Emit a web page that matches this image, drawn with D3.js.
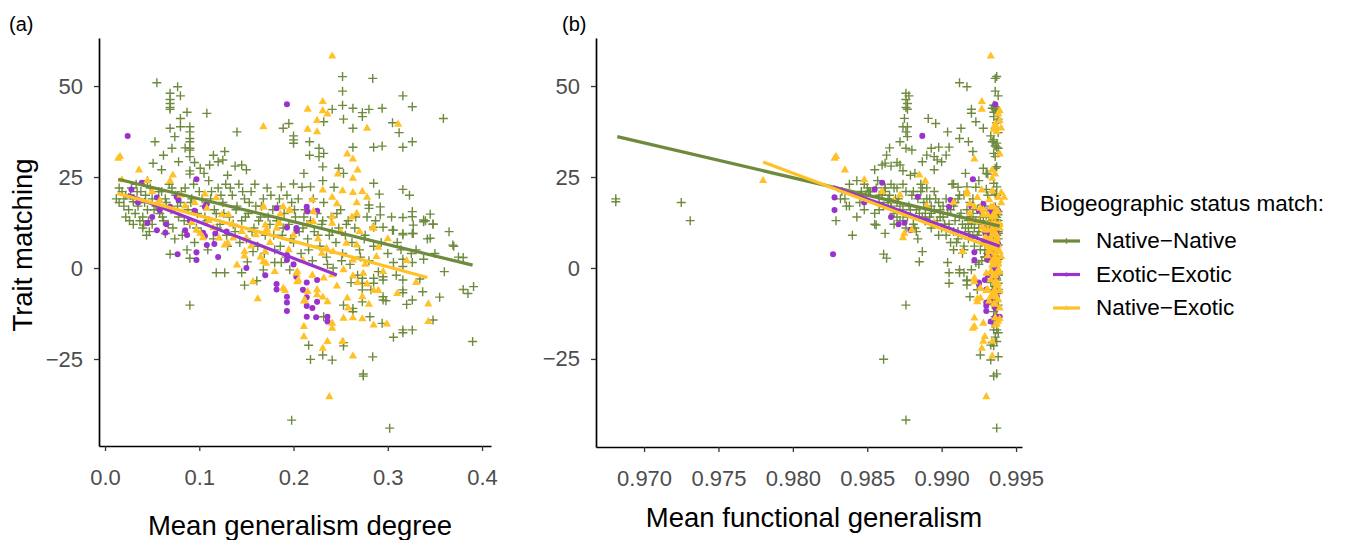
<!DOCTYPE html>
<html>
<head>
<meta charset="utf-8">
<script src="https://cdn.jsdelivr.net/npm/d3@7"></script>
<style>
  body { margin: 0; background: #fff; }
  text { font-family: "Liberation Sans", Arial, sans-serif; }
</style>
</head>
<body>
<div id="chart"></div>
<script>
// series
const seriesNames = ["Native\u2212Native", "Exotic\u2212Exotic", "Native\u2212Exotic"];
const seriesColors = ["#6E8B3D", "#9A32CD", "#FFC125"];
const seriesShapes = ["plus", "dot", "triangle"];

// each point: [mean generalism degree, mean functional generalism, trait matching]
const nativeNative = [
  [0.020,0.9681,19.0],[0.030,0.9681,18.2],[0.035,0.9725,18.0],[0.046,0.9731,13.0],
  [0.055,0.9912,50.9],[0.077,0.9917,49.8],[0.069,0.9876,48.0],[0.069,0.9876,46.3],[0.069,0.9877,45.2],
  [0.069,0.9876,44.1],[0.069,0.9877,43.6],[0.080,0.9878,47.3],[0.087,0.9935,42.8],[0.108,0.9920,42.5],
  [0.080,0.9875,41.1],[0.080,0.9877,38.8],[0.090,0.9874,38.8],[0.090,0.9876,37.4],[0.090,0.9912,35.6],
  [0.090,0.9918,34.7],[0.090,0.9876,32.9],[0.090,0.9880,32.4],[0.090,0.9895,30.6],[0.069,0.9913,38.4],
  [0.074,0.9877,36.1],[0.053,0.9872,34.7],[0.140,0.9904,37.4],[0.062,0.9863,31.0],[0.071,0.9893,32.9],
  [0.127,0.9921,32.0],[0.051,0.9862,28.8],[0.078,0.9900,29.2],[0.101,0.9928,27.4],[0.111,0.9872,28.3],
  [0.120,0.9887,29.2],[0.125,0.9897,29.7],[0.138,0.9866,28.0],[0.145,0.9860,28.3],[0.090,0.9874,26.7],
  [0.090,0.9931,25.8],
  [0.060,0.9855,27],[0.085,0.9865,33],[0.095,0.9870,29],[0.105,0.9882,26],[0.115,0.9890,31],
  [0.130,0.9879,25.5],[0.150,0.9895,27],
  [0.252,0.9937,52.6],[0.284,0.9936,52.1],[0.252,0.9936,48.6],[0.316,0.9938,47.3],[0.326,0.9936,44.3],
  [0.359,0.9891,41.1],[0.252,0.9935,44.7],[0.241,0.9920,43.6],[0.263,0.9936,43.9],[0.273,0.9937,42.7],
  [0.273,0.9935,41.6],[0.280,0.9936,43.6],[0.294,0.9934,43.9],[0.253,0.9938,40.9],[0.232,0.9923,40.2],
  [0.195,0.9896,39.7],[0.189,0.9928,38.4],[0.200,0.9933,36.3],[0.200,0.9935,35.2],[0.200,0.9937,34.3],
  [0.217,0.9934,34.7],[0.263,0.9936,38.4],[0.305,0.9937,39.9],[0.312,0.9938,37.2],[0.326,0.9935,34.7],
  [0.227,0.9938,32.9],[0.227,0.9936,30.6],[0.232,0.9935,31.5],[0.217,0.9903,31.0],[0.263,0.9905,33.2],
  [0.285,0.9937,33.2],[0.294,0.9936,33.5],[0.316,0.9898,33.2],[0.231,0.9937,27.8],[0.248,0.9936,27.4],
  [0.253,0.9916,26.0],[0.211,0.9930,26.0],[0.285,0.9935,23.3],[0.231,0.9925,24.0],[0.200,0.9908,23.1],
  [0.209,0.9923,22.2],[0.218,0.9937,22.3],[0.187,0.9917,22.3],[0.243,0.9911,22.2],[0.291,0.9936,20.3],
  [0.316,0.9930,21.6],[0.323,0.9937,20.0],[0.345,0.9934,14.8],[0.338,0.9937,13.2],[0.348,0.9935,12.0],
  [0.326,0.9938,15.5],[0.326,0.9936,14.1],[0.316,0.9937,13.9],[0.305,0.9931,10.4],[0.316,0.9938,9.5],
  [0.326,0.9936,9.5],[0.280,0.9927,17.3],[0.280,0.9933,16.4],[0.292,0.9936,16.8],[0.292,0.9938,14.6],
  [0.090,0.9876,-10.2],[0.041,0.9856,11.8],[0.064,0.9862,9.5],[0.069,0.9861,3.8],[0.090,0.9863,2.7],
  [0.118,0.9905,-1.3],[0.127,0.9912,-1.3],[0.145,0.9915,-1.3],[0.148,0.9917,-4.7],[0.161,0.9917,-3.5],
  [0.168,0.9920,-0.5],[0.151,0.9885,1.7],[0.157,0.9887,4.5],[0.180,0.9904,1.5],[0.187,0.9923,1.5],
  [0.198,0.9876,-41.8],[0.218,0.9861,-25.1],[0.216,0.9933,-21.2],[0.196,0.9912,-0.5],[0.302,0.9937,-44.0],
  [0.274,0.9937,-29.1],[0.274,0.9935,-29.7],[0.231,0.9926,-23.9],[0.241,0.9933,-25.3],[0.284,0.9938,-24.4],
  [0.253,0.9935,-21.4],[0.253,0.9934,-20.5],[0.306,0.9936,-19.0],[0.316,0.9938,-17.8],[0.316,0.9935,-17.0],
  [0.326,0.9937,-17.0],[0.348,0.9936,-14.3],[0.294,0.9934,-15.2],[0.390,0.9937,-20.2],[0.380,0.9938,-5.9],
  [0.391,0.9936,-5.1],[0.337,0.9937,-6.5],[0.326,0.9935,-8.8],[0.295,0.9936,-8.8],[0.295,0.9919,-7.9],
  [0.316,0.9924,-6.0],[0.316,0.9938,-6.8],[0.281,0.9936,-13.4],[0.263,0.9937,-11.1],[0.263,0.9935,-12.0],
  [0.273,0.9934,-9.3],[0.253,0.9938,-10.2],[0.232,0.9937,-13.4],[0.369,0.9938,6.3],[0.380,0.9936,2.9],
  [0.345,0.9935,8.2],[0.348,0.9937,12.1],[0.338,0.9934,12.7],[0.327,0.9938,9.5],[0.327,0.9935,11.8],
  [0.316,0.9936,9.1],[0.306,0.9933,10.4],[0.295,0.9937,11.2],[0.285,0.9934,11.2],[0.338,0.9936,2.4],
  [0.326,0.9937,1.5],[0.316,0.9935,0.4],[0.316,0.9938,2.4],[0.306,0.9936,1.5],[0.316,0.9937,-3.3],
  [0.295,0.9917,-3.3],[0.295,0.9936,-2.4],[0.285,0.9905,-4.2],[0.285,0.9937,-2.8],[0.273,0.9935,-2.8],
  [0.273,0.9938,-4.2],[0.273,0.9936,-6.0],
  [0.012,0.9832,19],[0.015,0.9845,18],[0.018,0.9852,21],[0.020,0.9838,17],[0.022,0.9858,20],
  [0.025,0.9848,16],[0.028,0.9862,22],[0.030,0.9835,19],[0.032,0.9855,15],[0.035,0.9866,17],
  [0.038,0.9851,21],[0.040,0.9870,14],[0.042,0.9858,18],[0.045,0.9874,16],[0.048,0.9862,22],
  [0.050,0.9881,12],[0.030,0.9868,12],[0.040,0.9876,11],[0.045,0.9843,24],[0.050,0.9864,19],
  [0.055,0.9872,17],[0.058,0.9885,15],[0.060,0.9852,21],[0.062,0.9889,13],[0.065,0.9866,18],
  [0.068,0.9848,23],[0.070,0.9879,16],[0.072,0.9893,11],[0.075,0.9860,20],[0.078,0.9887,14],
  [0.080,0.9870,18],[0.082,0.9898,9],[0.085,0.9856,22],[0.088,0.9883,16],[0.090,0.9902,12],
  [0.092,0.9869,19],[0.095,0.9906,7],[0.098,0.9889,15],[0.100,0.9862,21],[0.102,0.9908,10],
  [0.105,0.9878,17],[0.108,0.9897,13],[0.110,0.9857,24],[0.112,0.9884,19],[0.115,0.9911,8],
  [0.118,0.9893,15],[0.120,0.9870,22],[0.122,0.9905,12],[0.125,0.9888,18],[0.128,0.9866,23],
  [0.130,0.9915,6],[0.132,0.9899,14],[0.135,0.9880,20],[0.138,0.9911,10],[0.140,0.9893,17],
  [0.142,0.9874,23],[0.145,0.9909,13],[0.148,0.9890,19],[0.150,0.9918,8],[0.152,0.9904,15],
  [0.155,0.9886,21],[0.158,0.9916,11],[0.160,0.9901,17],[0.162,0.9922,6],[0.165,0.9912,14],
  [0.168,0.9896,19],[0.170,0.9921,9],[0.172,0.9890,22],[0.175,0.9914,12],[0.178,0.9906,16],
  [0.180,0.9926,5],[0.182,0.9918,13],[0.185,0.9903,19],[0.188,0.9924,9],[0.190,0.9913,15],
  [0.192,0.9929,3],[0.195,0.9920,12],[0.198,0.9909,18],[0.200,0.9927,7],[0.202,0.9919,14],
  [0.205,0.9911,19],[0.208,0.9931,4],[0.210,0.9925,11],[0.212,0.9917,16],[0.215,0.9930,8],
  [0.218,0.9923,13],[0.220,0.9934,2],[0.222,0.9928,10],[0.225,0.9921,15],[0.228,0.9933,6],
  [0.230,0.9927,12],[0.232,0.9919,18],[0.235,0.9935,3],[0.238,0.9931,9],[0.240,0.9926,14],
  [0.242,0.9936,0],[0.245,0.9932,7],[0.248,0.9929,11],[0.250,0.9924,16],[0.252,0.9936,4],
  [0.255,0.9933,9],[0.258,0.9930,13],[0.260,0.9937,1],[0.262,0.9934,7],[0.265,0.9931,11],
  [0.268,0.9938,-2],[0.270,0.9935,5],[0.275,0.9932,8],[0.278,0.9928,14],[0.280,0.9937,2],
  [0.285,0.9934,6],[0.290,0.9938,-1],[0.300,0.9935,4],[0.310,0.9936,7],[0.330,0.9933,5],
  [0.340,0.9932,13],[0.350,0.9937,4],[0.360,0.9938,-1],[0.370,0.9935,6],[0.375,0.9936,3],
  [0.015,0.9850,22],[0.022,0.9843,14],[0.027,0.9865,20],[0.033,0.9838,23],[0.037,0.9872,13],
  [0.043,0.9849,20],[0.047,0.9883,10],[0.052,0.9858,16],[0.057,0.9846,21],[0.061,0.9877,14],
  [0.064,0.9892,19],[0.067,0.9855,12],[0.071,0.9868,22],[0.074,0.9884,8],[0.077,0.9861,17],
  [0.081,0.9895,21],[0.084,0.9874,13],[0.087,0.9908,5],[0.091,0.9864,18],[0.094,0.9886,23],
  [0.097,0.9900,11],[0.103,0.9871,19],[0.106,0.9892,14],[0.109,0.9915,5],[0.113,0.9876,21],
  [0.116,0.9899,16],[0.119,0.9882,11],[0.123,0.9912,20],[0.126,0.9868,15],[0.129,0.9903,9],
  [0.133,0.9887,22],[0.136,0.9918,12],[0.139,0.9895,16],[0.143,0.9910,7],[0.146,0.9881,21],
  [0.149,0.9920,14],[0.153,0.9898,18],[0.156,0.9925,10],[0.159,0.9907,23],[0.163,0.9889,13],
  [0.166,0.9929,17],[0.169,0.9914,4],[0.173,0.9901,14],[0.176,0.9931,20],[0.179,0.9919,9],
  [0.183,0.9908,17],[0.186,0.9933,6],[0.189,0.9922,11],[0.193,0.9915,20],[0.197,0.9935,8],
  [0.201,0.9926,16],[0.206,0.9918,10],[0.211,0.9936,14],[0.216,0.9929,5],[0.221,0.9921,19],
  [0.226,0.9937,9],[0.231,0.9932,13],[0.236,0.9925,1],[0.241,0.9938,10],[0.246,0.9934,15],
  [0.251,0.9927,2],[0.256,0.9938,12],[0.261,0.9933,-4],[0.266,0.9936,14],[0.271,0.9929,3],
  [0.276,0.9937,9],[0.282,0.9934,-6],[0.287,0.9938,13],[0.293,0.9935,7],[0.298,0.9937,-9],
  [0.304,0.9933,14],[0.309,0.9938,-2],[0.314,0.9936,5],[0.320,0.9934,-10],[0.325,0.9937,4],
  [0.334,0.9935,-3],[0.342,0.9938,8],[0.355,0.9936,-8],[0.365,0.9934,10],[0.385,0.9937,-7],
  [0.026,0.9829,13],[0.034,0.9833,21],[0.044,0.9840,9],[0.054,0.9836,17]
];

const exoticExotic = [
  [0.024,0.9887,36.3],[0.028,0.9855,21.6],[0.039,0.9860,23.4],[0.055,0.9828,19.4],[0.058,0.9828,15.9],
  [0.077,0.9827,3.8],[0.076,0.9884,19.6],[0.078,0.9906,18.7],[0.069,0.9905,16.8],[0.095,0.9925,15.7],
  [0.097,0.9921,24.4],[0.106,0.9920,16.8],[0.108,0.9928,17.6],[0.045,0.9875,12.4],[0.055,0.9879,10.4],
  [0.064,0.9930,9.7],[0.085,0.9934,10.4],[0.087,0.9936,9.1],[0.104,0.9931,9.7],[0.106,0.9937,8.8],
  [0.117,0.9933,9.5],[0.097,0.9922,4.3],[0.097,0.9931,2.2],[0.108,0.9934,6.3],[0.116,0.9938,6.6],
  [0.129,0.9929,10.0],[0.182,0.9933,16.4],[0.193,0.9936,45.0],[0.193,0.9930,11.1],[0.203,0.9934,11.0],
  [0.203,0.9937,10.2],[0.214,0.9935,16.8],[0.215,0.9932,15.5],[0.225,0.9938,15.7],[0.182,0.9925,-4.4],
  [0.182,0.9930,-5.9],[0.193,0.9937,-7.9],[0.193,0.9930,-9.5],[0.193,0.9930,-11.8],[0.193,0.9931,3.6],
  [0.193,0.9922,2.2],[0.203,0.9937,-2.4],[0.214,0.9925,-4.0],[0.214,0.9937,-8.0],[0.214,0.9930,-10.4],
  [0.214,0.9939,-13.4],[0.224,0.9938,-13.5],[0.225,0.9934,-9.3],[0.236,0.9936,-13.4],[0.236,0.9933,-14.7],
  [0.225,0.9929,-3.3],
  [0.035,0.9848,18],[0.050,0.9866,14],[0.065,0.9871,12],[0.090,0.9890,13],[0.120,0.9933,3],
  [0.150,0.9936,0],[0.170,0.9931,-2],[0.200,0.9935,1],[0.210,0.9938,-6],[0.220,0.9936,-11]
];

const nativeExotic = [
  [0.014,0.9828,30.1],[0.016,0.9829,30.6],[0.036,0.9835,26.9],[0.045,0.9780,24.0],[0.018,0.9848,24.2],
  [0.072,0.9885,25.5],[0.069,0.9889,23.9],[0.058,0.9868,18.5],[0.085,0.9890,17.0],[0.092,0.9895,12.5],
  [0.168,0.9936,38.8],[0.215,0.9927,43.6],[0.215,0.9935,38.1],[0.231,0.9927,45.7],[0.231,0.9939,43.2],
  [0.236,0.9938,42.3],[0.225,0.9939,40.5],[0.225,0.9937,37.4],[0.278,0.9940,38.4],[0.311,0.9936,39.5],
  [0.241,0.9933,58.2],[0.257,0.9939,31.3],[0.263,0.9922,29.9],[0.268,0.9934,26.9],[0.247,0.9936,25.8],
  [0.263,0.9934,24.6],[0.231,0.9927,21.4],[0.252,0.9934,21.2],[0.263,0.9940,20.7],[0.273,0.9917,21.0],
  [0.241,0.9942,19.4],[0.246,0.9919,17.6],[0.278,0.9938,19.4],[0.267,0.9940,17.9],[0.267,0.9919,15.0],
  [0.284,0.9937,11.1],[0.241,0.9936,14.1],[0.241,0.9934,12.3],[0.220,0.9932,18.7],[0.196,0.9928,15.9],
  [0.189,0.9935,16.8],[0.221,0.9938,15.5],[0.221,0.9925,12.7],[0.168,0.9922,16.8],[0.184,0.9930,12.3],
  [0.106,0.9917,20.3],[0.118,0.9924,19.3],[0.108,0.9926,16.4],[0.124,0.9928,14.6],[0.131,0.9931,14.6],
  [0.168,0.9933,16.7],[0.186,0.9935,14.8],[0.195,0.9937,15.7],[0.171,0.9929,10.4],[0.101,0.9875,9.5],
  [0.104,0.9874,8.3],[0.097,0.9880,10.4],[0.121,0.9930,8.2],[0.127,0.9933,6.3],[0.130,0.9936,6.9],
  [0.148,0.9914,4.5],[0.148,0.9931,3.3],[0.140,0.9934,0.8],[0.168,0.9937,1.7],[0.171,0.9935,1.3],
  [0.170,0.9932,4.5],[0.157,0.9922,-3.8],[0.162,0.9924,-8.5],[0.189,0.9926,-5.6],[0.191,0.9930,-6.2],
  [0.185,0.9936,12.3],[0.170,0.9938,11.8],[0.160,0.9934,9.1],[0.150,0.9937,8.2],[0.136,0.9929,8.2],
  [0.204,0.9933,-1.0],[0.204,0.9936,-3.8],[0.212,0.9938,-8.8],[0.211,0.9922,-16.1],[0.211,0.9929,-18.9],
  [0.238,0.9930,-35.4],[0.231,0.9927,-22.1],[0.241,0.9928,-15.2],[0.241,0.9921,-16.6],[0.236,0.9928,-20.2],
  [0.253,0.9922,-13.8],[0.252,0.9934,-20.2],[0.263,0.9934,-24.2],[0.285,0.9936,-15.7],[0.299,0.9937,-15.4],
  [0.343,0.9938,-14.7],[0.343,0.9935,-9.9],[0.273,0.9939,-14.0],[0.263,0.9936,-13.7],[0.257,0.9926,-8.3],
  [0.236,0.9924,-9.3],[0.225,0.9931,-6.0],[0.225,0.9934,-7.4],[0.231,0.9937,-8.0],[0.215,0.9935,-6.5],
  [0.211,0.9932,-9.1],[0.273,0.9933,-7.9],[0.278,0.9938,-4.4],[0.285,0.9936,-6.2],[0.290,0.9939,-6.2],
  [0.263,0.9935,-2.2],[0.274,0.9937,-1.5],[0.203,0.9930,-1.5],[0.205,0.9933,-3.3],[0.232,0.9922,-2.8],
  [0.241,0.9935,-1.9],[0.253,0.9938,-0.5],[0.263,0.9936,2.2],[0.285,0.9939,10.9],[0.290,0.9937,5.7],
  [0.288,0.9940,3.1],[0.182,0.9934,10.9],[0.172,0.9931,10.4],[0.256,0.9937,6.8],[0.267,0.9938,6.3],
  [0.235,0.9935,5.4],[0.242,0.9939,4.5],[0.230,0.9936,4.0],
  [0.110,0.9920,13],[0.115,0.9927,11],[0.135,0.9932,12],[0.145,0.9935,10],[0.155,0.9931,6],
  [0.165,0.9936,3],[0.175,0.9934,7],[0.180,0.9938,-1],[0.195,0.9932,5],[0.200,0.9937,9],
  [0.210,0.9934,2],[0.215,0.9939,12],[0.220,0.9936,-2],[0.226,0.9933,8],[0.246,0.9937,-5],
  [0.250,0.9935,10],[0.258,0.9939,-11],[0.262,0.9934,14],[0.268,0.9937,-4],[0.270,0.9935,10],
  [0.276,0.9938,1],[0.280,0.9936,-10],[0.295,0.9939,-1],[0.300,0.9937,8],[0.310,0.9935,-7],
  [0.320,0.9938,2],[0.330,0.9936,-4],[0.050,0.9860,21],[0.080,0.9872,20],[0.095,0.9908,18]
];

// fitted lines per series: [x start, y start, x end, y end]
const fitDegree = [[0.014,24.4,0.390,0.8],[0.024,20.2,0.246,-1.9],[0.013,20.5,0.342,-2.6]];
const fitFunctional = [[0.9682,36.1,0.9939,11.5],[0.9827,22.3,0.9939,6.0],[0.9780,29.1,0.9939,4.8]];

const degreeTicks = [0.0, 0.1, 0.2, 0.3, 0.4];
const functionalTicks = [0.970, 0.975, 0.980, 0.985, 0.990, 0.995];
const traitTicks = [-25, 0, 25, 50];

const allSeries = [nativeNative, exoticExotic, nativeExotic];

const svg = d3.select("#chart").append("svg")
  .attr("width", 1352)
  .attr("height", 540);

const panels = [
  {label: "(a)", labelX: 9, col: 0, xDomain: [-0.0064, 0.4095], xRange: [99, 491],
   yDomain: [-48.9, 63.2], yRange: [446, 38], ticks: degreeTicks, fmt: ".1f",
   title: "Mean generalism degree", titleX: 300, titleY: 535, fit: fitDegree},
  {label: "(b)", labelX: 562, col: 1, xDomain: [0.96677, 0.9954], xRange: [596, 1022],
   yDomain: [-49.2, 63.2], yRange: [447, 38], ticks: functionalTicks, fmt: ".3f",
   title: "Mean functional generalism", titleX: 814, titleY: 527, fit: fitFunctional}
];

const drawMarker = (g, shape, color, cx, cy, s) => {
  if (shape === "plus") {
    g.append("path")
      .attr("d", `M${cx - s},${cy}H${cx + s}M${cx},${cy - s}V${cy + s}`)
      .attr("stroke", color).attr("stroke-width", 1.4).attr("fill", "none");
  } else if (shape === "dot") {
    g.append("circle").attr("cx", cx).attr("cy", cy).attr("r", s * 0.67).attr("fill", color);
  } else {
    g.append("path")
      .attr("d", d3.symbol(d3.symbolTriangle, s * s * 1.45)())
      .attr("transform", `translate(${cx},${cy})`)
      .attr("fill", color);
  }
};

panels.forEach(p => {
  const x = d3.scaleLinear().domain(p.xDomain).range(p.xRange);
  const y = d3.scaleLinear().domain(p.yDomain).range(p.yRange);
  const g = svg.append("g");

  // points
  allSeries.forEach((data, si) => {
    const pg = g.append("g");
    data.forEach(d => drawMarker(pg, seriesShapes[si], seriesColors[si], x(d[p.col]), y(d[2]), 4.5));
  });

  // fitted lines
  p.fit.forEach((f, si) => {
    g.append("line")
      .attr("x1", x(f[0])).attr("y1", y(f[1]))
      .attr("x2", x(f[2])).attr("y2", y(f[3]))
      .attr("stroke", seriesColors[si])
      .attr("stroke-width", 3.2);
  });

  const xAxis = g.append("g")
    .attr("transform", `translate(0,${p.yRange[0]})`)
    .call(d3.axisBottom(x).tickValues(p.ticks).tickFormat(d3.format(p.fmt))
      .tickSize(5).tickSizeOuter(0).tickPadding(18));

  const yAxis = g.append("g")
    .attr("transform", `translate(${p.xRange[0]},0)`)
    .call(d3.axisLeft(y).tickValues(traitTicks).tickSize(5).tickSizeOuter(0).tickPadding(11));

  [xAxis, yAxis].forEach(a => {
    a.select(".domain").attr("stroke", "#000").attr("stroke-width", 1.7);
    a.selectAll(".tick line").attr("stroke", "#333").attr("stroke-width", 1.3);
    a.selectAll(".tick text")
      .attr("fill", "#4D4D4D")
      .style("font-size", "22px")
      .style("font-family", "'Liberation Sans', Arial, sans-serif");
  });

  g.append("text")
    .attr("x", p.titleX).attr("y", p.titleY)
    .attr("text-anchor", "middle")
    .style("font-size", "27.5px")
    .text(p.title);

  g.append("text")
    .attr("x", p.labelX).attr("y", 31)
    .style("font-size", "20px")
    .text(p.label);
});

svg.append("text")
  .attr("transform", "translate(32,245) rotate(-90)")
  .attr("text-anchor", "middle")
  .style("font-size", "27.5px")
  .text("Trait matching");

// legend
const legend = svg.append("g");
legend.append("text")
  .attr("x", 1040).attr("y", 211)
  .style("font-size", "22.5px")
  .text("Biogeographic status match:");

seriesNames.forEach((name, i) => {
  const ky = 241 + i * 33.5;
  legend.append("line")
    .attr("x1", 1053).attr("x2", 1080)
    .attr("y1", ky).attr("y2", ky)
    .attr("stroke", seriesColors[i]).attr("stroke-width", 3.2);
  drawMarker(legend, seriesShapes[i], seriesColors[i], 1066.5, ky, 2.8);
  legend.append("text")
    .attr("x", 1096).attr("y", ky + 7)
    .style("font-size", "22.5px")
    .text(name);
});
</script>
</body>
</html>
